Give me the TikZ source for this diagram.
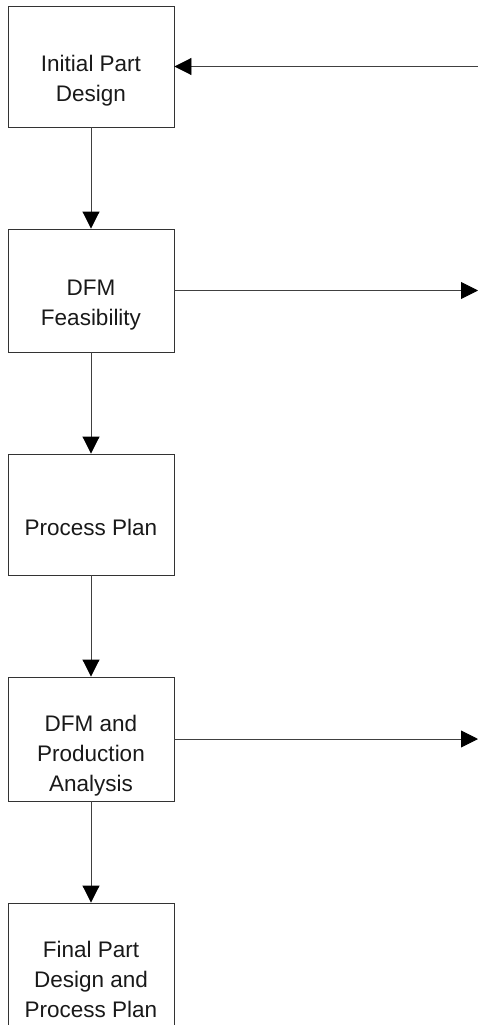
\documentclass[tikz,border=0pt]{standalone}
\usepackage{fontspec}
\setmainfont{Liberation Sans}
\usetikzlibrary{arrows.meta}
\begin{document}
\begin{tikzpicture}[x=1pt,y=-1pt,
  stepbox/.style={draw=black!80,line width=0.9pt,minimum width=166pt,inner sep=0pt},
  lbl/.style={align=center,inner sep=0pt,text=black!90,font=\fontsize{22.5pt}{30pt}\selectfont},
  flow/.style={draw=black!75,line width=0.9pt,-{Triangle[length=17pt,width=17pt,color=black]}}]
\useasboundingbox (0,0) rectangle (478,1025);
\clip (0,0) rectangle (478,1025);
% process boxes
\node[stepbox,minimum height=121pt] (b1) at (91,66.5) {};
\node[stepbox,minimum height=123pt] (b2) at (91,290.5) {};
\node[stepbox,minimum height=121pt] (b3) at (91,514.5) {};
\node[stepbox,minimum height=124pt] (b4) at (91,739) {};
\node[stepbox,minimum height=125pt] (b5) at (91,965.5) {};
% box texts
\node[lbl] (t1) at (91,81) {Initial Part\\Design};
\node[lbl] (t2) at (91,305) {DFM\\Feasibility};
\node[lbl] (t3) at (91,527) {Process Plan};
\node[lbl] (t4) at (91,756) {DFM and\\Production\\Analysis};
\node[lbl] (t5) at (91,979) {Final Part\\Design and\\Process Plan};
% free ends on the right
\coordinate (r1) at (478,66.5);
\coordinate (r2) at (478,290.5);
\coordinate (r4) at (478,739);
% main flow
\draw[flow] (b1) -- (b2);
\draw[flow] (b2) -- (b3);
\draw[flow] (b3) -- (b4);
\draw[flow] (b4) -- (b5);
% side connectors
\draw[flow] (r1) -- (b1.east);
\draw[flow] (b2.east) -- (r2);
\draw[flow] (b4.east) -- (r4);
\end{tikzpicture}
\end{document}
